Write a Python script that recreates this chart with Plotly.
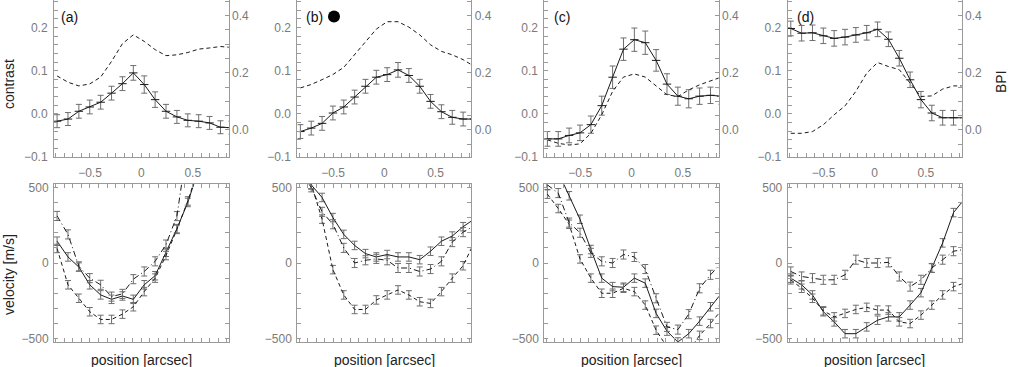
import plotly.graph_objects as go

# slit position of each sample [arcsec]
position = [-0.82, -0.714, -0.608, -0.502, -0.396, -0.29, -0.184, -0.078, 0.028,
            0.134, 0.24, 0.346, 0.452, 0.558, 0.664, 0.77, 0.876]

panel_labels = ["(a)", "(b)", "(c)", "(d)"]

# contrast (solid, left axis) and its errors
contrast_a = [-0.017, -0.012, 0.006, 0.016, 0.027, 0.048, 0.070, 0.095, 0.068,
              0.033, 0.006, -0.007, -0.015, -0.017, -0.021, -0.031, -0.032]
contrast_b = [-0.041, -0.033, -0.022, 0.002, 0.016, 0.039, 0.064, 0.085, 0.091,
              0.102, 0.089, 0.064, 0.029, 0.005, -0.008, -0.012, -0.012]
contrast_c = [-0.058, -0.058, -0.050, -0.044, -0.025, 0.019, 0.085, 0.150, 0.172,
              0.165, 0.124, 0.069, 0.041, 0.035, 0.041, 0.043, 0.041]
contrast_d = [0.198, 0.187, 0.188, 0.181, 0.175, 0.178, 0.183, 0.188, 0.196,
              0.173, 0.129, 0.079, 0.033, 0.002, -0.009, -0.009, -0.009]

contrast_err_a = [0.015, 0.015, 0.016, 0.016, 0.016, 0.016, 0.016, 0.017, 0.020,
                  0.018, 0.016, 0.015, 0.015, 0.015, 0.015, 0.015, 0.015]
contrast_err_b = [0.016, 0.016, 0.016, 0.016, 0.016, 0.016, 0.016, 0.016, 0.016,
                  0.017, 0.016, 0.016, 0.016, 0.016, 0.016, 0.016, 0.016]
contrast_err_c = [0.017, 0.017, 0.017, 0.018, 0.020, 0.022, 0.026, 0.026, 0.027,
                  0.027, 0.025, 0.024, 0.021, 0.021, 0.019, 0.019, 0.019]
contrast_err_d = [0.017, 0.018, 0.018, 0.018, 0.018, 0.018, 0.017, 0.017, 0.017,
                  0.017, 0.018, 0.018, 0.019, 0.018, 0.017, 0.017, 0.017]

# BPI (dashed, right axis)
bpi_a = [0.189, 0.167, 0.154, 0.161, 0.185, 0.240, 0.302, 0.333, 0.310,
         0.281, 0.260, 0.263, 0.271, 0.283, 0.287, 0.292, 0.289]
bpi_b = [0.147, 0.159, 0.176, 0.194, 0.219, 0.263, 0.310, 0.353, 0.379,
         0.379, 0.360, 0.333, 0.298, 0.275, 0.263, 0.246, 0.223]
bpi_c = [-0.035, -0.047, -0.053, -0.049, -0.012, 0.053, 0.135, 0.185, 0.196,
         0.185, 0.154, 0.123, 0.117, 0.140, 0.158, 0.172, 0.185]
bpi_d = [-0.012, -0.012, -0.006, 0.018, 0.053, 0.084, 0.135, 0.199, 0.236,
         0.222, 0.211, 0.166, 0.117, 0.119, 0.143, 0.154, 0.154]

# velocities [m/s]: solid, dashed, dash-dot
vel_solid_a = [144, 40, -27, -144, -211, -240, -218, -240, -144, -84, 71, 227, 400, 620,
               None, None, None]
vel_dash_a = [96, -144, -233, -322, -373, -373, -338, -289, -189, -100, 49, 222, 410, 630,
              None, None, None]
vel_dashdot_a = [311, 189, -22, -100, -144, -222, -204, -107, -56, 11, 122, 310, 800,
                 None, None, None, None]

vel_solid_b = [600, 515, 433, 300, 189, 116, 62, 40, 56, 40, 40, 22, 78, 144, 178, 240, 289]
vel_dash_b = [600, 520, 290, -44, -211, -307, -307, -244, -211, -178, -211, -256, -267,
              -189, -100, -18, 133]
vel_dashdot_b = [600, 500, 338, 256, 100, 0, 18, 27, 18, -33, -33, -56, -40, 11, 138, 204, 244]

vel_solid_c = [700, 600, 444, 289, 89, -100, -156, -160, -100, -133, -333, -450, -522,
               -467, -384, -289, -200]
vel_dash_c = [455, 360, 256, 27, -100, -200, -200, -167, -189, -278, -444, -555, -600,
              -580, -478, -400, -311]
vel_dashdot_c = [516, 462, 267, 200, 67, 11, 0, 56, 40, -40, -233, -422, -440, -338,
                 -167, -78, 0]

vel_solid_d = [-100, -144, -211, -322, -389, -467, -467, -422, -378, -356, -356, -278,
               -196, -33, 133, 333, 422]
vel_dash_d = [-111, -167, -233, -316, -356, -333, -307, -293, -311, -311, -389, -400,
              -344, -278, -211, -156, -133]
vel_dashdot_d = [-56, -89, -100, -111, -111, -78, 22, 0, 0, 4, -89, -156, -111, -33,
                 22, 78, 89]

vel_err = [28, 28, 30]

contrast = [contrast_a, contrast_b, contrast_c, contrast_d]
contrast_err = [contrast_err_a, contrast_err_b, contrast_err_c, contrast_err_d]
bpi = [bpi_a, bpi_b, bpi_c, bpi_d]
velocity = [
    [vel_solid_a, vel_dash_a, vel_dashdot_a],
    [vel_solid_b, vel_dash_b, vel_dashdot_b],
    [vel_solid_c, vel_dash_c, vel_dashdot_c],
    [vel_solid_d, vel_dash_d, vel_dashdot_d],
]

W, H = 1010, 367
col_px = [(54, 228.7), (297.3, 471.3), (544.3, 718.7), (787.7, 961.7)]
top_px = (0, 157)
bot_px = (184.3, 341.7)

FONT = "Liberation Sans, Arial, Helvetica, sans-serif"
AXC = "#9a9a9a"
TXC = "#7a7a7a"
LC = "#1a1a1a"
EC = "#6e6e6e"
dashes = ["solid", "4px,3px", "6px,3px,1px,3px"]


def fx(px):
    return px / W


def fy(py):
    return 1 - py / H


def label(x, y, text, angle=0, size=14, color="#222", xanchor="center"):
    fig.add_annotation(x=fx(x), y=fy(y), xref="paper", yref="paper", text=text,
                       textangle=angle, showarrow=False, xanchor=xanchor,
                       yanchor="middle", borderpad=0,
                       font=dict(family=FONT, size=size, color=color))


fig = go.Figure()

for i in range(4):
    xt, yt, yb = f"x{i+1}", f"y{i+1}", f"y{i+5}"
    xb, yv = f"x{i+5}", f"y{i+9}"

    fig.add_trace(go.Scatter(
        x=position, y=bpi[i], xaxis=xt, yaxis=yb, mode="lines",
        line=dict(color=LC, width=1, dash=dashes[1])))
    fig.add_trace(go.Scatter(
        x=position, y=contrast[i], xaxis=xt, yaxis=yt, mode="lines+markers",
        line=dict(color=LC, width=1),
        marker=dict(symbol="line-ew", size=6, line=dict(width=1, color=LC)),
        error_y=dict(type="data", array=contrast_err[i], color=EC, thickness=1, width=3)))

    for k in range(3):
        fig.add_trace(go.Scatter(
            x=position, y=velocity[i][k], xaxis=xb, yaxis=yv, mode="lines",
            line=dict(color=LC, width=1, dash=dashes[k]),
            error_y=dict(type="data", array=[vel_err[k]] * len(position), color=EC,
                         thickness=1, width=3)))

    dom = [fx(col_px[i][0]), fx(col_px[i][1])]
    common = dict(showgrid=False, zeroline=False, showline=True, linecolor=AXC,
                  linewidth=1, ticks="inside", tickcolor=AXC, ticklen=4,
                  automargin=False,
                  tickfont=dict(family=FONT, size=12, color=TXC))
    xminor = dict(ticks="inside", ticklen=4, tickcolor=AXC, dtick=0.5 / 6, tick0=0)

    fig.layout[f"xaxis{i+1}"] = dict(
        common, domain=dom, anchor=yt, range=[-0.85, 0.85], tickmode="linear",
        tick0=0, dtick=0.5, minor=xminor, ticklabelstandoff=5)
    fig.layout[f"yaxis{i+1}"] = dict(
        common, domain=[fy(top_px[1]), fy(top_px[0])], anchor=xt,
        range=[-0.1, 0.264], tickmode="linear", tick0=0, dtick=0.1, tickformat=".1f",
        ticklabelstandoff=3,
        minor=dict(ticks="inside", ticklen=4, tickcolor=AXC, dtick=0.02, tick0=0))
    fig.layout[f"yaxis{i+5}"] = dict(
        common, overlaying=yt, side="right", anchor=xt,
        range=[-0.095, 0.455], tickmode="linear", tick0=0, dtick=0.2, tickformat=".1f",
        minor=dict(ticks="inside", ticklen=4, tickcolor=AXC, dtick=0.05, tick0=0))
    fig.layout[f"xaxis{i+5}"] = dict(
        common, domain=dom, anchor=yv, range=[-0.85, 0.85], tickmode="linear",
        tick0=0, dtick=0.5, showticklabels=False, mirror="ticks", minor=xminor)
    fig.layout[f"yaxis{i+9}"] = dict(
        common, domain=[fy(bot_px[1]), fy(bot_px[0])], anchor=xb,
        range=[-520, 520], tickmode="linear", tick0=0, dtick=500, mirror="ticks",
        ticklabelstandoff=2,
        minor=dict(ticks="inside", ticklen=4, tickcolor=AXC, dtick=100, tick0=0))

    cx = (col_px[i][0] + col_px[i][1]) / 2
    label(cx, 360, "position [arcsec]")
    label(col_px[i][0] + [6, 8, 9, 8][i], 16.5, panel_labels[i], color="#111",
          xanchor="left")

# filled dot marker next to panel (b)
fig.add_shape(type="circle", xref="paper", yref="paper",
              x0=fx(328), x1=fx(340), y0=fy(22.5), y1=fy(10.5),
              fillcolor="black", line=dict(color="black", width=0))

label(9, 84, "contrast", angle=-90)
label(9, 275, "velocity [m/s]", angle=-90)
label(1001, 82, "BPI", angle=-90)

fig.update_layout(
    width=W, height=H, margin=dict(l=0, r=0, t=0, b=0),
    paper_bgcolor="white", plot_bgcolor="white", showlegend=False,
)

# drop the browser's default body margin so the figure fills the window
fig.write_html("out.html", config={"displayModeBar": False},
               post_script="document.body.style.margin = '0px';")
